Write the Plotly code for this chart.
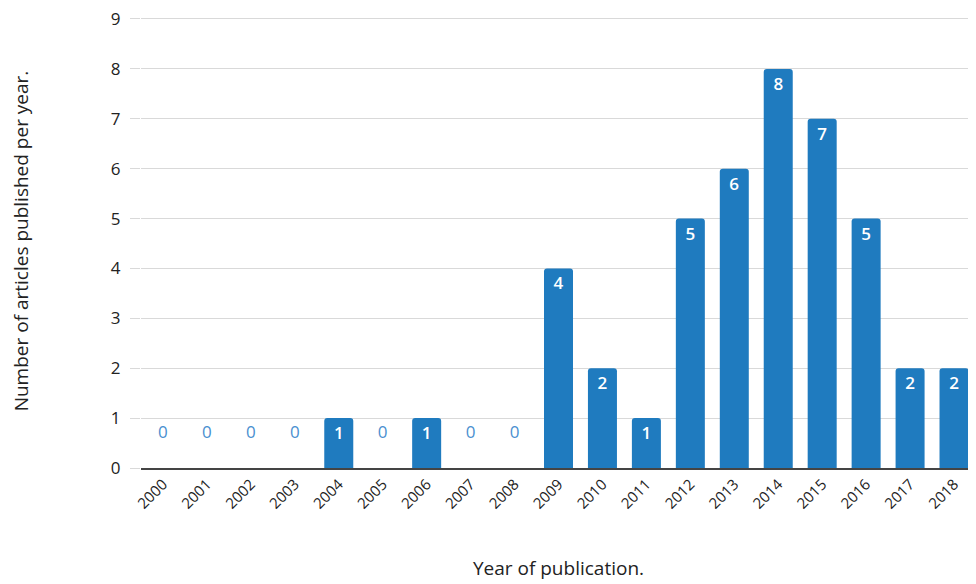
import plotly.graph_objects as go

years = [str(y) for y in range(2000, 2019)]
counts = [0, 0, 0, 0, 1, 0, 1, 0, 0, 4, 2, 1, 5, 6, 8, 7, 5, 2, 2]

bar_color = "#1f7bbf"
zero_color = "#4a8fd0"

texts = [str(c) if c > 0 else "0<br> " for c in counts]
positions = ["inside" if c > 0 else "outside" for c in counts]
text_colors = ["white" if c > 0 else zero_color for c in counts]

fig = go.Figure(go.Bar(
    x=years,
    y=counts,
    marker=dict(color=bar_color, line=dict(width=0)),
    text=texts,
    textposition=positions,
    insidetextanchor="end",
    textangle=0,
    textfont=dict(family="Open Sans", size=17, color=text_colors, weight=600),
    outsidetextfont=dict(family="Open Sans", size=17, color=zero_color, weight=500),
    insidetextfont=dict(family="Open Sans", size=17, color="white", weight=600),
    cliponaxis=False,
))

fig.update_layout(
    width=968,
    height=576,
    margin=dict(l=133, r=0, t=6, b=116),
    paper_bgcolor="white",
    plot_bgcolor="white",
    bargap=0.34,
    barcornerradius=3,
    showlegend=False,
    font=dict(family="Open Sans", color="#222222"),
    xaxis=dict(
        type="category",
        tickangle=-45,
        tickfont=dict(size=15, color="#222222"),
        showline=True,
        linecolor="#444444",
        linewidth=1.5,
        showgrid=False,
        ticks="",
        title=dict(text="Year of publication.", font=dict(size=19, color="#222222"), standoff=50),
    ),
    yaxis=dict(
        range=[0, 9.1],
        tickvals=list(range(10)),
        ticklabeloverflow="allow",
        ticklabelstandoff=6,
        tickfont=dict(size=17, color="#222222"),
        showgrid=True,
        gridcolor="#d9d9d9",
        gridwidth=1,
        ticks="outside",
        ticklen=10,
        tickcolor="#d9d9d9",
        zeroline=False,
        showline=False,
        title=dict(text="Number of articles published per year.", font=dict(size=19, color="#222222"), standoff=77),
    ),
)

fig.write_html("out.html")
